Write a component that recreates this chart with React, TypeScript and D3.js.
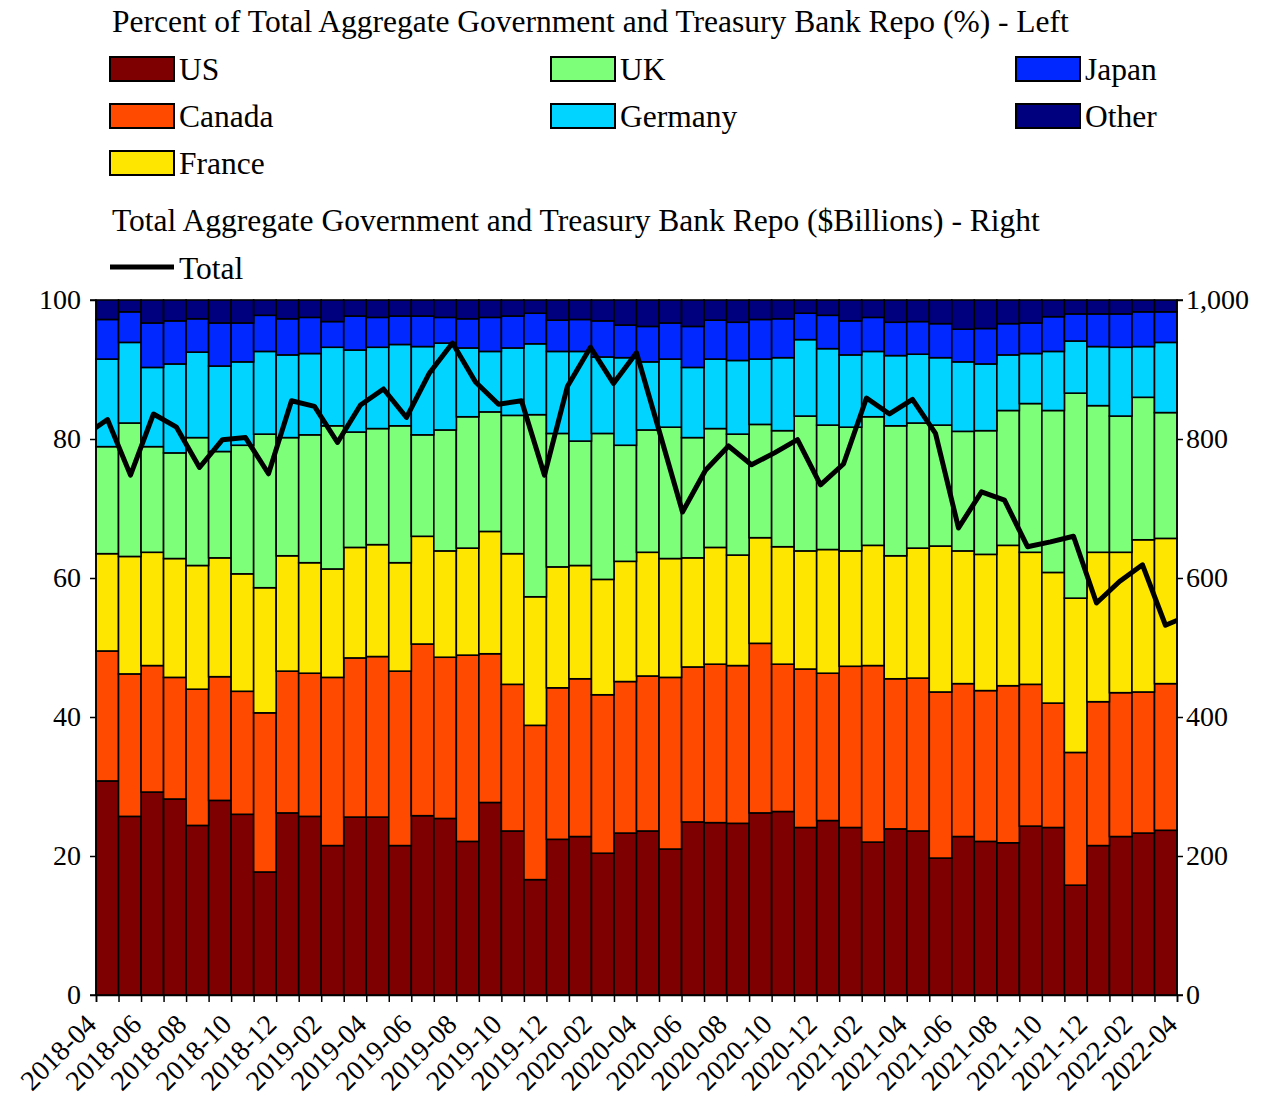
import * as d3 from "d3";
import React, { useEffect, useRef } from "react";

// shares of total repo by counterparty country, % (one value per month, 2018-04 .. 2022-03)
const US = [30.8, 25.7, 29.2, 28.2, 24.4, 28.0, 26.0, 17.7, 26.2, 25.7, 21.5, 25.6, 25.6, 21.5, 25.8, 25.4, 22.1, 27.7, 23.6, 16.6, 22.4, 22.8, 20.4, 23.3, 23.6, 21.0, 24.9, 24.8, 24.7, 26.2, 26.4, 24.1, 25.1, 24.1, 22.0, 23.9, 23.6, 19.7, 22.8, 22.1, 21.9, 24.3, 24.1, 15.8, 21.5, 22.8, 23.3, 23.7];
const CANADA = [18.7, 20.5, 18.2, 17.5, 19.6, 17.8, 17.7, 22.9, 20.4, 20.6, 24.2, 22.9, 23.1, 25.1, 24.7, 23.2, 26.8, 21.4, 21.1, 22.2, 21.8, 22.7, 22.8, 21.8, 22.3, 24.7, 22.3, 22.8, 22.7, 24.4, 21.2, 22.8, 21.2, 23.2, 25.4, 21.6, 22.0, 23.9, 22.0, 21.7, 22.6, 20.4, 17.9, 19.1, 20.7, 20.7, 20.3, 21.1];
const FRANCE = [14.0, 16.9, 16.3, 17.1, 17.8, 17.1, 16.9, 18.0, 16.6, 15.9, 15.6, 15.9, 16.1, 15.6, 15.5, 15.3, 15.4, 17.6, 18.8, 18.5, 17.4, 16.3, 16.6, 17.3, 17.8, 17.1, 15.7, 16.8, 15.9, 15.2, 16.9, 17.0, 17.8, 16.6, 17.3, 17.7, 18.7, 21.0, 19.1, 19.6, 20.2, 19.0, 18.8, 22.2, 21.5, 20.2, 21.9, 20.9];
const UK = [15.4, 19.2, 15.2, 15.2, 18.4, 15.3, 18.5, 22.1, 17.0, 18.4, 20.6, 16.6, 16.7, 19.7, 14.6, 17.4, 18.9, 17.2, 19.9, 26.2, 19.2, 17.9, 21.0, 16.7, 17.6, 18.9, 17.3, 17.1, 17.4, 16.3, 16.7, 19.4, 17.9, 17.8, 18.5, 18.7, 18.0, 17.4, 17.2, 17.8, 19.4, 21.4, 23.3, 29.5, 21.1, 19.6, 20.5, 18.1];
const GERMANY = [12.6, 11.6, 11.4, 12.8, 12.3, 12.3, 12.0, 11.9, 11.9, 11.7, 11.3, 11.8, 11.7, 11.7, 12.7, 12.5, 9.9, 8.7, 9.7, 10.2, 11.8, 12.9, 11.0, 12.6, 9.8, 9.8, 10.1, 10.0, 10.6, 9.4, 10.5, 11.0, 11.0, 10.4, 9.4, 10.1, 9.9, 9.7, 10.0, 9.6, 8.0, 7.2, 8.5, 7.5, 8.5, 9.9, 7.3, 10.1];
const JAPAN = [5.7, 4.4, 6.4, 6.2, 4.8, 6.2, 5.6, 5.2, 5.2, 5.2, 3.7, 4.9, 4.3, 4.1, 4.4, 3.7, 4.2, 4.9, 4.6, 4.4, 4.5, 4.6, 5.2, 4.7, 5.1, 5.2, 5.9, 5.6, 5.5, 5.7, 5.6, 3.8, 4.8, 4.9, 4.9, 4.8, 4.7, 4.9, 4.7, 5.1, 4.5, 4.4, 5.0, 3.9, 4.7, 4.8, 5.0, 4.4];
const OTHER = [2.8, 1.7, 3.3, 3.0, 2.7, 3.3, 3.3, 2.2, 2.7, 2.5, 3.1, 2.3, 2.5, 2.3, 2.3, 2.5, 2.7, 2.5, 2.3, 1.9, 2.9, 2.8, 3.0, 3.6, 3.8, 3.3, 3.8, 2.9, 3.2, 2.8, 2.7, 1.9, 2.2, 3.0, 2.5, 3.2, 3.1, 3.4, 4.2, 4.1, 3.4, 3.3, 2.4, 2.0, 2.0, 2.0, 1.7, 1.7];

// total aggregate repo, $ billions (49 points, the first and last fall just outside the axes)
const TOTAL = [805, 828, 748, 836, 817, 759, 799, 802, 750, 855, 847, 795, 849, 872, 831, 895, 938, 882, 850, 855, 748, 876, 932, 880, 924, 810, 695, 755, 790, 763, 780, 799, 734, 764, 859, 836, 857, 808, 672, 724, 712, 645, 652, 660, 564, 595, 619, 532, 546];

const TICK_LABELS = ["2018-04", "2018-06", "2018-08", "2018-10", "2018-12", "2019-02", "2019-04", "2019-06", "2019-08", "2019-10", "2019-12", "2020-02", "2020-04", "2020-06", "2020-08", "2020-10", "2020-12", "2021-02", "2021-04", "2021-06", "2021-08", "2021-10", "2021-12", "2022-02", "2022-04"];

const SERIES = [
  { name: "US", color: "#7f0000", values: US },
  { name: "Canada", color: "#ff4a00", values: CANADA },
  { name: "France", color: "#ffe600", values: FRANCE },
  { name: "UK", color: "#7dff7a", values: UK },
  { name: "Germany", color: "#00d4ff", values: GERMANY },
  { name: "Japan", color: "#0028ff", values: JAPAN },
  { name: "Other", color: "#00007f", values: OTHER },
];

const W = 1272;
const H = 1100;
const left = 96;
const right = 1177;
const top = 300;
const bottom = 995;
const FONT = "'Liberation Serif', 'DejaVu Serif', serif";
const FS = 28; // tick labels
const LFS = 31.5; // titles and legend

const App: React.FC = () => {
  const svgRef = useRef<SVGSVGElement | null>(null);

  useEffect(() => {
    const svg = d3.select(svgRef.current);
    svg.selectAll("*").remove();

    const n = US.length;
    const x = d3.scaleLinear().domain([0, n]).range([left, right]);
    const xLine = d3.scaleLinear().domain([0.5, n - 0.5]).range([left, right]);
    const y = d3.scaleLinear().domain([0, 100]).range([bottom, top]);
    const yR = d3.scaleLinear().domain([0, 1000]).range([bottom, top]);

    const rows = d3.range(n).map((i) => {
      const r: any = { i };
      SERIES.forEach((s) => (r[s.name] = s.values[i]));
      return r;
    });
    const stacked = d3.stack<any>().keys(SERIES.map((s) => s.name))(rows);

    svg
      .append("defs")
      .append("clipPath")
      .attr("id", "plot-clip")
      .append("rect")
      .attr("x", left)
      .attr("y", top - 10)
      .attr("width", right - left)
      .attr("height", bottom - top + 20);

    // bars
    const layers = svg
      .append("g")
      .selectAll("g")
      .data(stacked)
      .enter()
      .append("g")
      .attr("fill", (d, k) => SERIES[k].color);

    layers
      .selectAll("rect")
      .data((d) => d)
      .enter()
      .append("rect")
      .attr("x", (d: any) => x(d.data.i))
      .attr("width", x(1) - x(0))
      .attr("y", (d) => y(Math.min(d[1], 100)))
      .attr("height", (d) => y(d[0]) - y(Math.min(d[1], 100)))
      .attr("stroke", "#000")
      .attr("stroke-width", 1.6);

    // total line on right axis
    const line = d3
      .line<number>()
      .x((d, k) => xLine(k))
      .y((d) => yR(d));

    svg
      .append("path")
      .datum(TOTAL)
      .attr("clip-path", "url(#plot-clip)")
      .attr("d", line)
      .attr("fill", "none")
      .attr("stroke", "#000")
      .attr("stroke-width", 5)
      .attr("stroke-linejoin", "round");

    // axes
    const leftAxis = d3
      .axisLeft(y)
      .tickValues([0, 20, 40, 60, 80, 100])
      .tickFormat(d3.format("d"))
      .tickSize(6)
      .tickPadding(9);
    const rightAxis = d3
      .axisRight(yR)
      .tickValues([0, 200, 400, 600, 800, 1000])
      .tickFormat(d3.format(","))
      .tickSize(6)
      .tickPadding(3);
    const bottomAxis = d3
      .axisBottom(x)
      .tickValues(d3.range(0, n + 1))
      .tickFormat(() => "")
      .tickSize(7);

    const styleAxis = (g: any) => {
      g.selectAll("path").attr("stroke", "#000").attr("stroke-width", 1.5);
      g.selectAll("line").attr("stroke", "#000").attr("stroke-width", 1.5);
      g.selectAll("text")
        .attr("font-family", FONT)
        .attr("font-size", FS)
        .attr("fill", "#000");
    };

    svg
      .append("g")
      .attr("transform", `translate(${left},0)`)
      .call(leftAxis)
      .call((g) => g.select(".domain").attr("d", `M-6,${top}H0V${bottom}H-6`))
      .call(styleAxis);
    svg
      .append("g")
      .attr("transform", `translate(${right},0)`)
      .call(rightAxis)
      .call((g) => g.select(".domain").attr("d", `M6,${top}H0V${bottom}H6`))
      .call(styleAxis);
    svg
      .append("g")
      .attr("transform", `translate(0,${bottom})`)
      .call(bottomAxis)
      .call(styleAxis);

    // x tick labels, every second month, rotated
    svg
      .append("g")
      .selectAll("text")
      .data(TICK_LABELS)
      .enter()
      .append("text")
      .attr("transform", (d, k) => `translate(${x(k * 2) + 2},${bottom + 31}) rotate(-45)`)
      .attr("text-anchor", "end")
      .attr("font-family", FONT)
      .attr("font-size", FS)
      .text((d) => d);

    // legend
    const legend = svg.append("g").attr("font-family", FONT).attr("font-size", LFS);
    legend
      .append("text")
      .attr("x", 112)
      .attr("y", 32)
      .text("Percent of Total Aggregate Government and Treasury Bank Repo (%) - Left");

    const colX = [110, 551, 1016];
    const perCol = [3, 2, 2];
    let s = 0;
    perCol.forEach((count, c) => {
      for (let r = 0; r < count; r++, s++) {
        const item = SERIES[s];
        const cy = 69 + r * 47;
        legend
          .append("rect")
          .attr("x", colX[c])
          .attr("y", cy - 12)
          .attr("width", 64)
          .attr("height", 24)
          .attr("fill", item.color)
          .attr("stroke", "#000")
          .attr("stroke-width", 2);
        legend
          .append("text")
          .attr("x", colX[c] + 69)
          .attr("y", cy + 11)
          .text(item.name);
      }
    });

    legend
      .append("text")
      .attr("x", 112)
      .attr("y", 231)
      .text("Total Aggregate Government and Treasury Bank Repo ($Billions) - Right");
    legend
      .append("line")
      .attr("x1", 110)
      .attr("x2", 174)
      .attr("y1", 267)
      .attr("y2", 267)
      .attr("stroke", "#000")
      .attr("stroke-width", 5);
    legend.append("text").attr("x", 179).attr("y", 279).text("Total");
  }, []);

  return (
    <svg
      ref={svgRef}
      width={W}
      height={H}
      style={{ position: "absolute", left: 0, top: 0, background: "#fff" }}
    ></svg>
  );
};

export default App;
